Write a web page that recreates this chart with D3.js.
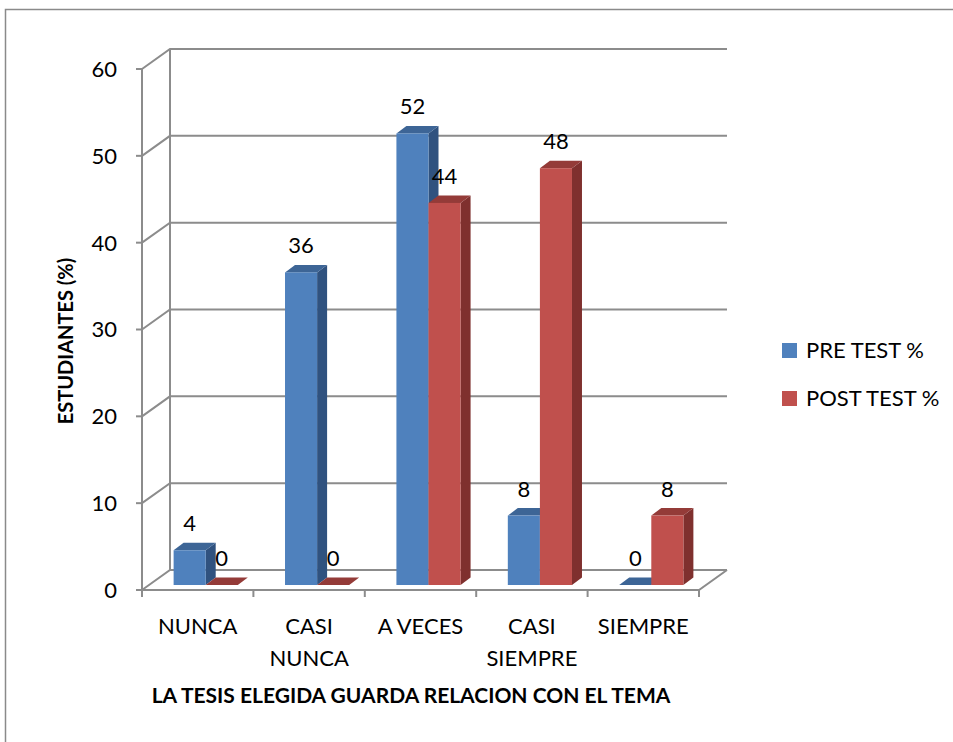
<!DOCTYPE html>
<html>
<head>
<meta charset="utf-8">
<script src="https://cdn.jsdelivr.net/npm/d3@7"></script>
<style>
  body { margin: 0; background: #fff; }
  svg { display: block; font-family: Lato, "Open Sans", sans-serif; }
</style>
</head>
<body>
<svg id="chart" width="953" height="742"></svg>
<script>

////////////////////////// DATA //////////////////////////

const categories = [['NUNCA'], ['CASI', 'NUNCA'], ['A VECES'], ['CASI', 'SIEMPRE'], ['SIEMPRE']]
const seriesNames = ['PRE TEST %', 'POST TEST %']
const preTest = [4, 36, 52, 8, 0]
const postTest = [0, 0, 44, 48, 8]
const yTicks = [0, 10, 20, 30, 40, 50, 60]
const yTitle = 'ESTUDIANTES (%)'
const xTitle = 'LA TESIS ELEGIDA GUARDA RELACION CON EL TEMA'

////////////////////////// SETUP //////////////////////////

const svg = d3.select('#chart')

// front / face colours and shaded sides for the 3d look
const colors = [
  { front: '#4F81BD', side: '#30527F', top: '#3D6596' },
  { front: '#C0504D', side: '#7F302E', top: '#943B38' }
]

// depth of the floor (back wall offset) and of each bar
const wallDx = 28, wallDy = -20
const barFrontDx = 8, barFrontDy = -5
const barDx = 10, barDy = -7.5

const keys = categories.map((d) => d.join(' '))
const xScale = d3.scaleBand().domain(keys).range([142, 699]).paddingInner(0).paddingOuter(0)
const yScale = d3.scaleLinear().domain([0, 60]).range([590, 69])
const barW = xScale.bandwidth() * 0.288

const data = keys.map((k, i) => ({ key: k, values: [preTest[i], postTest[i]] }))

// chart frame
svg.append('rect')
  .attr('x', 5.5).attr('y', 9.5)
  .attr('width', 1000).attr('height', 800)
  .attr('fill', 'none')
  .attr('stroke', '#8a8a8a')
  .attr('stroke-width', 1.5)

////////////////////////// WALLS //////////////////////////

const grid = svg.append('g')
  .attr('stroke', '#8c8c8c')
  .attr('stroke-width', 2)
  .attr('fill', 'none')

const xLeft = xScale.range()[0]
const xRight = xScale.range()[1]

// back wall gridlines + left wall diagonals
yTicks.forEach((t) => {
  const y = yScale(t)
  grid.append('path')
    .attr('d', `M${xLeft},${y} L${xLeft + wallDx},${y + wallDy} L${xRight + wallDx},${y + wallDy}`)
  grid.append('line')
    .attr('x1', xLeft - 6).attr('x2', xLeft)
    .attr('y1', y).attr('y2', y)
})

// back wall left edge
grid.append('line')
  .attr('x1', xLeft + wallDx).attr('x2', xLeft + wallDx)
  .attr('y1', yScale(60) + wallDy).attr('y2', yScale(0) + wallDy)

// y axis line
grid.append('line')
  .attr('x1', xLeft).attr('x2', xLeft)
  .attr('y1', yScale(60)).attr('y2', yScale(0))

// floor front + right edge
grid.append('path')
  .attr('d', `M${xLeft},${yScale(0)} L${xRight},${yScale(0)} L${xRight + wallDx},${yScale(0) + wallDy}`)

// category ticks
keys.concat(['end']).forEach((k, i) => {
  const x = i < keys.length ? xScale(k) : xRight
  grid.append('line')
    .attr('x1', x).attr('x2', x)
    .attr('y1', yScale(0)).attr('y2', yScale(0) + 7)
})

////////////////////////// BARS //////////////////////////

const bars = svg.append('g')
const base = yScale(0) + barFrontDy

data.forEach((d) => {
  const groupCenter = xScale(d.key) + xScale.bandwidth() / 2 + barFrontDx
  d.values.forEach((v, s) => {
    const x0 = groupCenter - barW + s * barW
    const x1 = x0 + barW
    const yTop = yScale(v) + barFrontDy
    const c = colors[s]
    const g = bars.append('g')

    if (v === 0) {
      // flat slab lying on the floor
      g.append('path')
        .attr('d', `M${x0},${base} L${x1},${base} L${x1 + barDx},${base + barDy} L${x0 + barDx},${base + barDy}Z`)
        .attr('fill', c.top)
    } else {
      // side
      g.append('path')
        .attr('d', `M${x1},${base} L${x1 + barDx},${base + barDy} L${x1 + barDx},${yTop + barDy} L${x1},${yTop}Z`)
        .attr('fill', c.side)
      // top
      g.append('path')
        .attr('d', `M${x0},${yTop} L${x1},${yTop} L${x1 + barDx},${yTop + barDy} L${x0 + barDx},${yTop + barDy}Z`)
        .attr('fill', c.top)
      // front
      g.append('rect')
        .attr('x', x0).attr('y', yTop)
        .attr('width', barW).attr('height', base - yTop)
        .attr('fill', c.front)
    }

    // value label
    svg.append('text')
      .attr('x', (x0 + x1) / 2)
      .attr('y', yTop - 19)
      .attr('text-anchor', 'middle')
      .attr('font-size', 22)
      .attr('fill', '#000')
      .text(v)
  })
})

////////////////////////// AXIS TEXT //////////////////////////

// y tick labels
yTicks.forEach((t) => {
  svg.append('text')
    .attr('x', 117)
    .attr('y', yScale(t))
    .attr('dy', '0.36em')
    .attr('text-anchor', 'end')
    .attr('font-size', 22)
    .text(t)
})

// category labels
categories.forEach((lines, i) => {
  const t = svg.append('text')
    .attr('x', xScale(keys[i]) + xScale.bandwidth() / 2)
    .attr('y', 634)
    .attr('text-anchor', 'middle')
    .attr('font-size', 22)
  lines.forEach((l, j) => {
    t.append('tspan')
      .attr('x', xScale(keys[i]) + xScale.bandwidth() / 2)
      .attr('dy', j === 0 ? 0 : 32)
      .text(l)
  })
})

// axis titles
svg.append('text')
  .attr('x', 411)
  .attr('y', 703)
  .attr('text-anchor', 'middle')
  .attr('font-size', 21)
  .attr('font-weight', 'bold')
  .text(xTitle)

svg.append('text')
  .attr('transform', 'translate(73,341) rotate(-90)')
  .attr('text-anchor', 'middle')
  .attr('font-size', 20)
  .attr('font-weight', 'bold')
  .text(yTitle)

////////////////////////// LEGEND //////////////////////////

const legend = svg.append('g')
seriesNames.forEach((name, i) => {
  legend.append('rect')
    .attr('x', 782).attr('y', 343 + i * 48)
    .attr('width', 15).attr('height', 15)
    .attr('fill', colors[i].front)
  legend.append('text')
    .attr('x', 806).attr('y', 358 + i * 48)
    .attr('font-size', 22)
    .text(name)
})

</script>
</body>
</html>
